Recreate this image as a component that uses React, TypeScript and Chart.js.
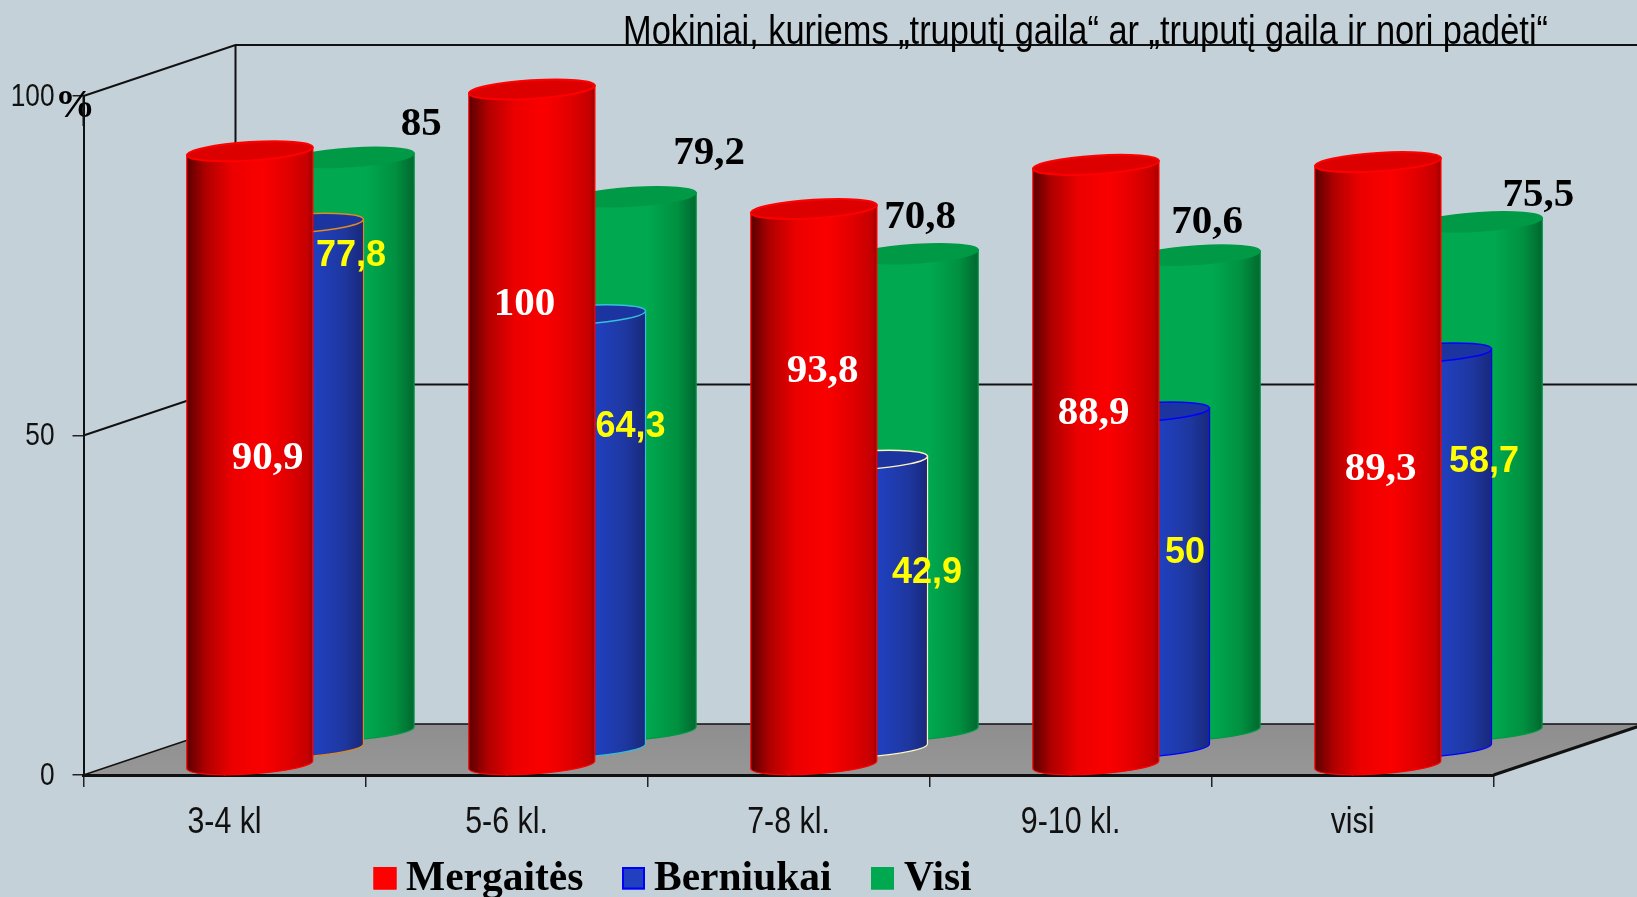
import React, { useEffect, useRef } from "react";
import { Chart, registerables } from "chart.js";

Chart.register(...registerables);

const categories = ["3-4 kl", "5-6 kl.", "7-8 kl.", "9-10 kl.", "visi"];
// Heights as drawn in the picture: the third red cylinder stands lower than its printed label.
const mergaites = [90.9, 100, 82.4, 88.9, 89.3];
const berniukai = [77.8, 64.3, 42.9, 50, 58.7];
const visi = [85, 79.2, 70.8, 70.6, 75.5];
// Printed labels
const mergaitesLabels = ["90,9", "100", "93,8", "88,9", "89,3"];
const berniukaiLabels = ["77,8", "64,3", "42,9", "50", "58,7"];
const visiLabels = ["85", "79,2", "70,8", "70,6", "75,5"];
const titleText = "Mokiniai, kuriems „truputį gaila“ ar „truputį gaila ir nori padėti“";

const BG = "#c5d1d8";
const SERIF = '"Liberation Serif", serif';
const SANS = '"Liberation Sans", sans-serif';
const CONDENSE = 0.82;

const DEPTH_X = 152;
const DEPTH_Y = 51;
const TILT = -8;
const RY = 9.2;
const TOP_INSET = 2;

type Style = {
  stops: [number, string][];
  top: string;
  rim: string[];
  labelFont: string;
  labelColor: string;
  labels: string[];
  nudge: [number, number][];
  depth: number;
};

const styles: Style[] = [
  {
    stops: [[0, "#5a0000"], [0.15, "#b00000"], [0.36, "#ec0000"], [0.6, "#fa0000"], [0.8, "#e20000"], [0.96, "#c40000"], [1, "#a00000"]],
    top: "#dd0000",
    rim: ["#ff0000"],
    labelFont: `bold 41px ${SERIF}`,
    labelColor: "#ffffff",
    labels: mergaitesLabels,
    nudge: [[17.7, 308.7], [-7.3, 216.5], [8.7, 164], [-2.3, 251], [2.7, 309]],
    depth: 1 / 6,
  },
  {
    stops: [[0, "#1c3bb8"], [0.6, "#2040c0"], [0.85, "#1e379f"], [1, "#18287a"]],
    top: "#1c349f",
    rim: ["#e08a20", "#34c0dc", "#fff4c0", "#0000ff", "#0000ff"],
    labelFont: `bold 36px ${SANS}`,
    labelColor: "#ffff00",
    labels: berniukaiLabels,
    nudge: [[50.5, 35], [48, 114], [62.5, 115], [38.5, 143], [55.5, 111]],
    depth: 1 / 2,
  },
  {
    stops: [[0, "#00a84f"], [0.62, "#00a84f"], [0.85, "#009040"], [1, "#00682f"]],
    top: "#009a47",
    rim: ["#009a47"],
    labelFont: `bold 41px ${SERIF}`,
    labelColor: "#000000",
    labels: visiLabels,
    nudge: [[70, -31], [76, -41], [5, -34], [10, -31], [59, -24]],
    depth: 5 / 6,
  },
];

const fillCondensed = (ctx: any, text: string, x: number, y: number) => {
  ctx.fillText(text, x, y, ctx.measureText(text).width * CONDENSE);
};

const stageGeometry = {
  id: "stageGeometry",
  beforeDraw(chart: any) {
    const { ctx, scales } = chart;
    const x = scales.x;
    const y = scales.y;
    const l = x.left;
    const r = x.right;
    const b = y.bottom;
    ctx.save();
    ctx.fillStyle = BG;
    ctx.fillRect(0, 0, chart.width, chart.height);

    const g = ctx.createLinearGradient(0, b - DEPTH_Y, 0, b);
    g.addColorStop(0, "#8e8e8e");
    g.addColorStop(1, "#979797");
    ctx.fillStyle = g;
    ctx.beginPath();
    ctx.moveTo(l, b);
    ctx.lineTo(r, b);
    ctx.lineTo(r + DEPTH_X, b - DEPTH_Y);
    ctx.lineTo(l + DEPTH_X, b - DEPTH_Y);
    ctx.closePath();
    ctx.fill();

    ctx.strokeStyle = "#111111";
    for (const t of y.ticks) {
      const py = y.getPixelForValue(t.value);
      ctx.lineWidth = t.value === 0 ? 1.5 : 2;
      ctx.beginPath();
      ctx.moveTo(l, py);
      ctx.lineTo(l + DEPTH_X, py - DEPTH_Y);
      ctx.lineTo(chart.width + 10, py - DEPTH_Y);
      ctx.stroke();
    }
    ctx.lineWidth = 2;
    ctx.beginPath();
    ctx.moveTo(l + DEPTH_X, y.top - DEPTH_Y);
    ctx.lineTo(l + DEPTH_X, b - DEPTH_Y);
    ctx.stroke();
    ctx.lineWidth = 3;
    ctx.beginPath();
    ctx.moveTo(r, b);
    ctx.lineTo(r + DEPTH_X, b - DEPTH_Y);
    ctx.stroke();

    ctx.fillStyle = "#000000";
    ctx.font = `40px ${SANS}`;
    ctx.textAlign = "left";
    ctx.textBaseline = "alphabetic";
    ctx.fillText(titleText, 623, 44, 925);

    // axis tick labels, condensed like the reference's narrow face
    ctx.fillStyle = "#111111";
    ctx.font = `37px ${SANS}`;
    ctx.textAlign = "center";
    ctx.textBaseline = "middle";
    x.ticks.forEach((t: any, i: number) => {
      fillCondensed(ctx, String(t.label), x.getPixelForTick(i), 823);
    });
    ctx.font = `32px ${SANS}`;
    ctx.textAlign = "right";
    y.ticks.forEach((t: any) => {
      fillCondensed(ctx, String(t.label), 54.5, y.getPixelForValue(t.value) + 1);
    });
    ctx.restore();
  },
  beforeDatasetDraw(chart: any, args: any) {
    const { ctx } = chart;
    const i = args.index;
    const st = styles[i];
    const meta = args.meta;
    const dx = DEPTH_X * st.depth;
    const dy = DEPTH_Y * st.depth;
    meta.data.forEach((bar: any, j: number) => {
      const rx = bar.width / 2;
      const cx = bar.x + dx;
      const top = bar.y - dy + TOP_INSET;
      const base = bar.base - dy - 1;
      const rot = Math.atan2(TILT, bar.width);
      const tiltY = TILT / 2;
      const rim = st.rim[j % st.rim.length];
      ctx.save();

      const g = ctx.createLinearGradient(cx - rx, 0, cx + rx, 0);
      st.stops.forEach(([o, c]) => g.addColorStop(o, c));
      ctx.beginPath();
      ctx.moveTo(cx - rx, top - tiltY);
      ctx.lineTo(cx - rx, base - tiltY);
      ctx.ellipse(cx, base, rx, RY, rot, Math.PI, 0, true);
      ctx.lineTo(cx + rx, top + tiltY);
      ctx.closePath();
      ctx.fillStyle = g;
      ctx.fill();
      ctx.strokeStyle = rim;
      ctx.lineWidth = 1.2;
      ctx.stroke();

      ctx.beginPath();
      ctx.ellipse(cx, top, rx, RY, rot, 0, Math.PI * 2);
      ctx.fillStyle = st.top;
      ctx.fill();
      ctx.strokeStyle = rim;
      ctx.lineWidth = i === 0 ? 2 : 1.5;
      ctx.stroke();

      if (i === 0) {
        ctx.fillStyle = "#e80000";
        ctx.beginPath();
        ctx.moveTo(bar.x - 3, bar.base - 2);
        ctx.lineTo(bar.x + 3, bar.base - 2);
        ctx.lineTo(bar.x, bar.base + 2);
        ctx.closePath();
        ctx.fill();
      }
      ctx.restore();
    });
    return false;
  },
  afterDraw(chart: any) {
    const { ctx } = chart;
    ctx.save();
    styles.forEach((st, i) => {
      const meta = chart.getDatasetMeta(i);
      meta.data.forEach((bar: any, j: number) => {
        const [nx, ny] = st.nudge[j];
        ctx.font = st.labelFont;
        ctx.fillStyle = st.labelColor;
        ctx.textAlign = "center";
        ctx.textBaseline = "middle";
        ctx.fillText(
          st.labels[j],
          bar.x + DEPTH_X * st.depth + nx,
          bar.y - DEPTH_Y * st.depth + ny
        );
      });
    });

    ctx.font = `bold 40px ${SERIF}`;
    ctx.fillStyle = "#000000";
    ctx.textAlign = "center";
    ctx.textBaseline = "middle";
    ctx.fillText("%", 75, 107);
    ctx.strokeStyle = "#111111";
    ctx.lineWidth = 2;
    ctx.beginPath();
    ctx.moveTo(chart.scales.x.left, chart.scales.y.top);
    ctx.lineTo(chart.scales.x.left, chart.scales.y.top + 30);
    ctx.stroke();

    const swatch = [
      { x: 373.5, tx: 406, fill: "#ff0000", line: "#ff0000" },
      { x: 622, tx: 654, fill: "#2040c0", line: "#0000ff" },
      { x: 871, tx: 904, fill: "#00a84f", line: "#00a84f" },
    ];
    chart.data.datasets.forEach((ds: any, i: number) => {
      const s = swatch[i];
      ctx.fillStyle = s.fill;
      ctx.fillRect(s.x, 867, 23, 22.5);
      ctx.strokeStyle = s.line;
      ctx.lineWidth = 2;
      ctx.strokeRect(s.x + 1, 868, 21, 20.5);
      ctx.fillStyle = "#000000";
      ctx.font = `bold 41.5px ${SERIF}`;
      ctx.textAlign = "left";
      ctx.textBaseline = "alphabetic";
      ctx.fillText(ds.label, s.tx, 890);
    });
    ctx.restore();
  },
};

export default function App() {
  const ref = useRef<HTMLCanvasElement>(null);
  useEffect(() => {
    document.body.style.margin = "0";
    document.body.style.background = BG;
    const chart = new Chart(ref.current as HTMLCanvasElement, {
      type: "bar",
      data: {
        labels: categories,
        datasets: [
          { label: "Mergaitės", data: mergaites, backgroundColor: "#ff0000" },
          { label: "Berniukai", data: berniukai, backgroundColor: "#2040c0" },
          { label: "Visi", data: visi, backgroundColor: "#00a84f" },
        ],
      },
      options: {
        responsive: false,
        animation: false,
        layout: { padding: { top: 96, right: 143.4, left: 0, bottom: 0 } },
        plugins: {
          legend: { display: false },
          tooltip: { enabled: false },
          title: { display: false },
        },
        datasets: { bar: { grouped: false, barPercentage: 0.447, categoryPercentage: 1 } },
        scales: {
          x: {
            offset: true,
            afterFit: (s: any) => { s.height = 122; },
            grid: {
              offset: true,
              drawOnChartArea: false,
              drawTicks: true,
              tickLength: 12,
              color: "#222222",
              lineWidth: 1.5,
            },
            border: { display: true, color: "#111111", width: 3 },
            ticks: { display: false, maxRotation: 0, autoSkip: false },
          },
          y: {
            min: 0,
            max: 100,
            afterFit: (s: any) => { s.width = 83.5; },
            grid: { drawOnChartArea: false, drawTicks: true, tickLength: 11, color: "#222222", lineWidth: 1.5 },
            border: { display: true, color: "#111111", width: 2 },
            ticks: { display: false, stepSize: 50 },
          },
        },
      } as any,
      plugins: [stageGeometry as any],
    });
    return () => chart.destroy();
  }, []);
  return <canvas ref={ref} width={1637} height={897} style={{ display: "block", filter: "blur(0.5px)" }} />;
}
